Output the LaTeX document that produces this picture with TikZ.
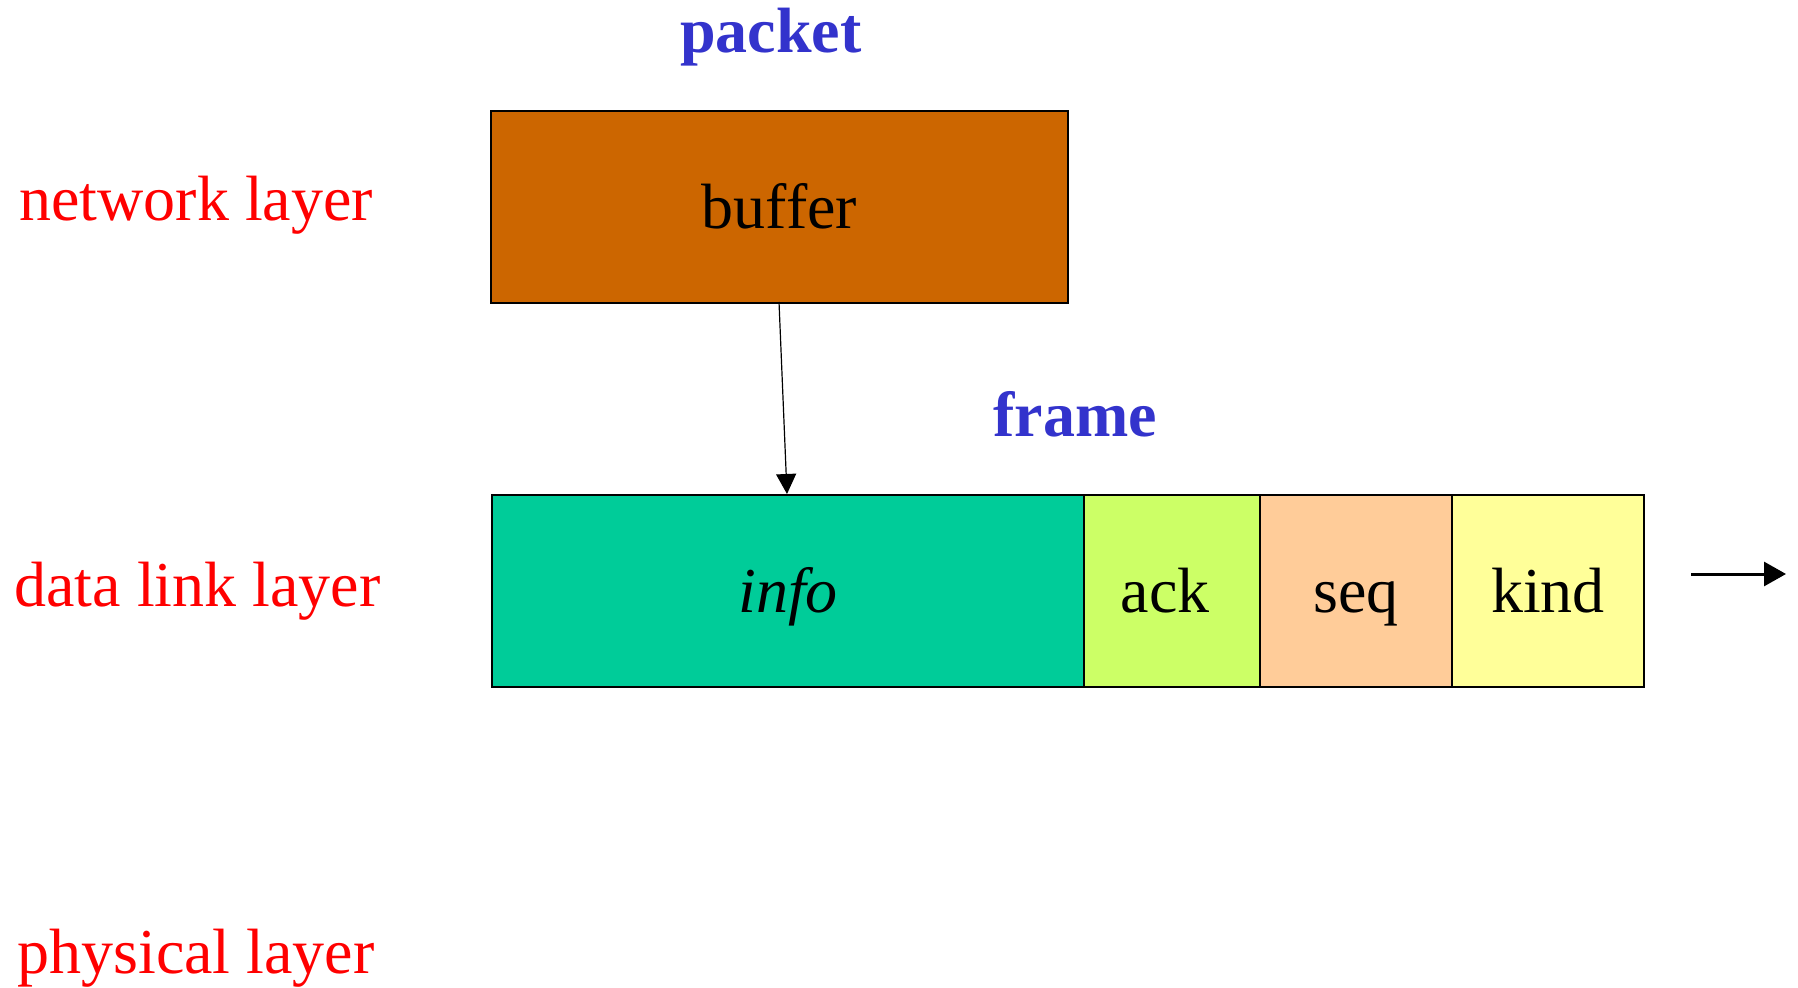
\documentclass[tikz,border=0pt]{standalone}
\usepackage{fontspec}
\setmainfont{Liberation Serif}
\usetikzlibrary{arrows.meta}
\definecolor{layerred}{HTML}{FF0000}
\definecolor{titleblue}{HTML}{3333CC}
\definecolor{bufbrown}{HTML}{CC6600}
\definecolor{infogreen}{HTML}{00CC99}
\definecolor{ackgreen}{HTML}{CCFF66}
\definecolor{seqorange}{HTML}{FFCC99}
\definecolor{kindyellow}{HTML}{FFFF99}
\tikzset{
  bigfont/.style={font=\fontsize{32}{36}\selectfont},
  layerlabel/.style={bigfont, text=layerred, anchor=base west, inner sep=0pt},
  title/.style={font=\fontsize{32}{36}\selectfont\bfseries, text=titleblue, anchor=base west, inner sep=0pt},
  field/.style={draw=black, line width=1pt, rectangle, anchor=north west, inner sep=0pt,
    minimum height=96pt, text height=21.8pt, text depth=0pt, bigfont},
  conn/.style={line width=0.6pt, -{Triangle[length=10pt,width=10pt]}},
  outarrow/.style={line width=1.5pt, -{Triangle[length=11pt,width=12pt]}}
}
\begin{document}
\begin{tikzpicture}[x=0.5pt,y=-0.5pt]
\useasboundingbox (0,0) rectangle (1798,988);
% layer labels
\node[layerlabel] (net) at (19,221) {network layer};
\node[layerlabel] (dll) at (14,606) {data link layer};
\node[layerlabel] (phy) at (17,973) {physical layer};
% titles
\node[title] (packet) at (680,53) {packet};
\node[title] (frame) at (993,437) {frame};
% boxes
\node[field, fill=bufbrown, minimum width=288.5pt] (buffer) at (490,110) {buffer};
\node[field, fill=infogreen, minimum width=296pt] (info) at (491,494) {\itshape info};
\node[field, fill=ackgreen, minimum width=88pt] (ack) at (1083,494) {\hbox{ack\kern7pt}};
\node[field, fill=seqorange, minimum width=96pt] (seq) at (1259,494) {seq};
\node[field, fill=kindyellow, minimum width=96pt] (kind) at (1451,494) {kind};
% connectors
\coordinate (bufout) at (779,302);
\coordinate (infoin) at (787,494);
\draw[conn] (bufout) -- (infoin);
\coordinate (outA) at (1691,574);
\coordinate (outB) at (1786,574);
\draw[outarrow] (outA) -- (outB);
\end{tikzpicture}
\end{document}
